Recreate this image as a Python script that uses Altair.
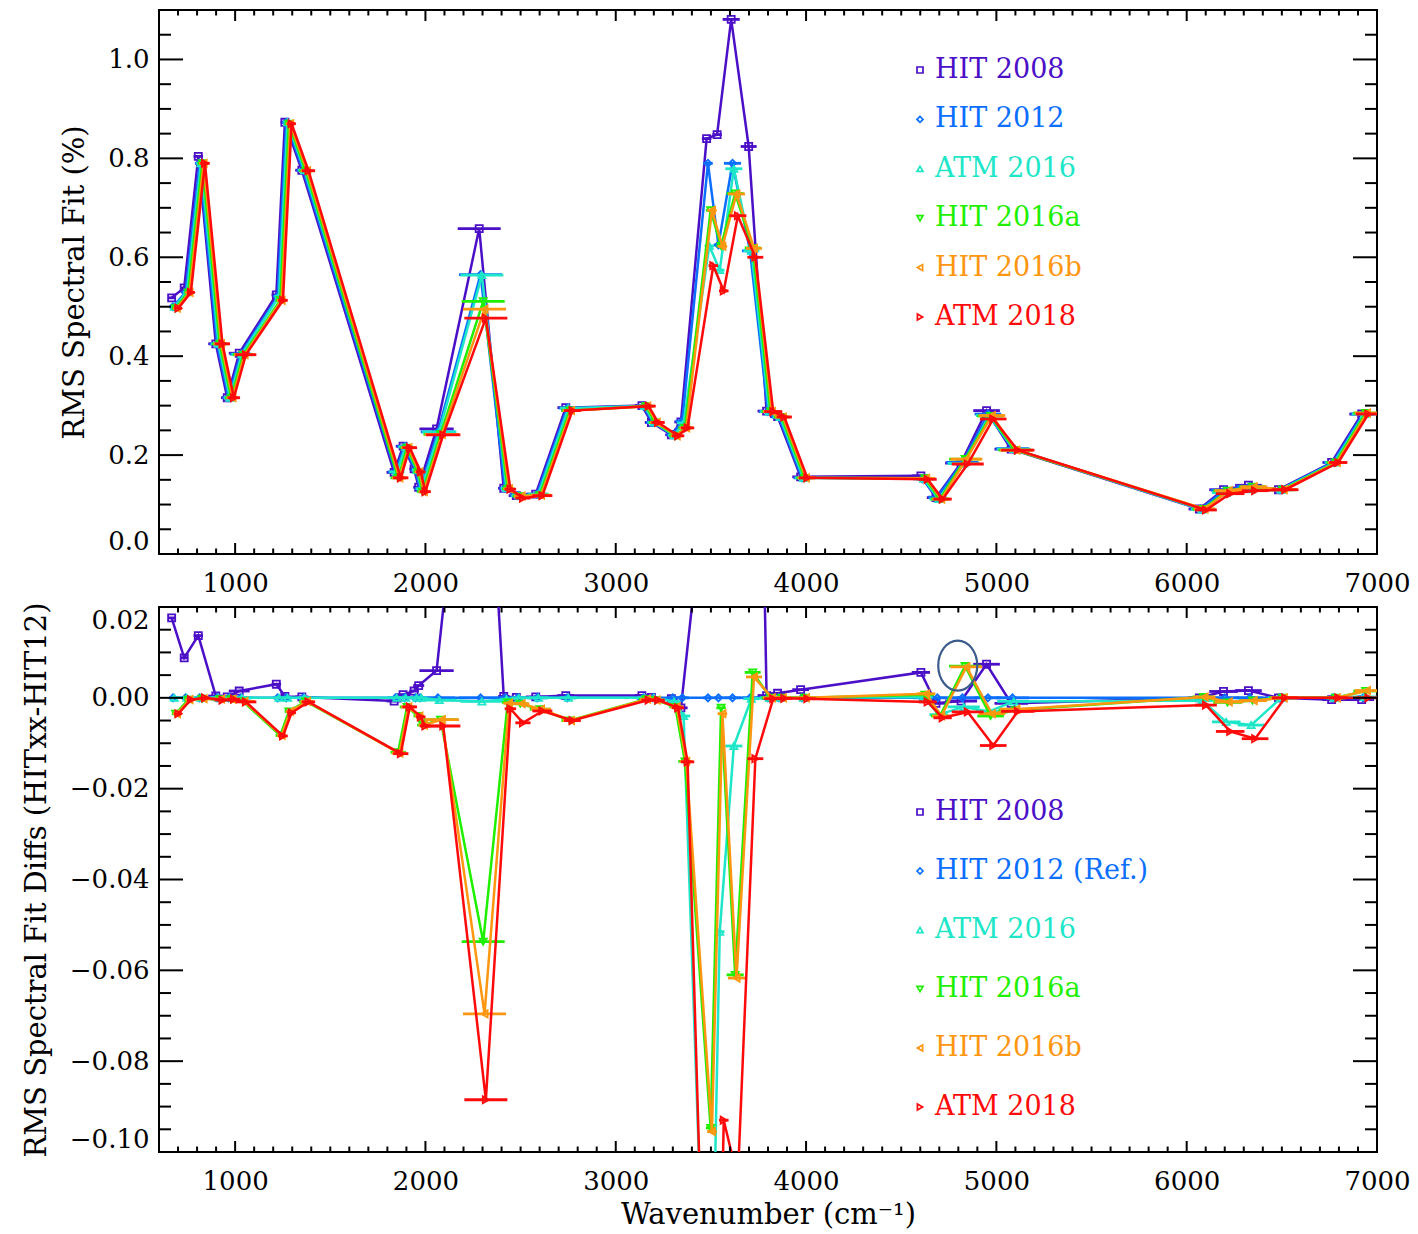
import altair as alt
import pandas as pd

# ---------------- data ----------------
SERIES = ["HIT 2008", "HIT 2012", "ATM 2016", "HIT 2016a", "HIT 2016b", "ATM 2018"]
LEGEND_TOP = ["HIT 2008", "HIT 2012", "ATM 2016", "HIT 2016a", "HIT 2016b", "ATM 2018"]
LEGEND_BOTTOM = ["HIT 2008", "HIT 2012 (Ref.)", "ATM 2016", "HIT 2016a", "HIT 2016b", "ATM 2018"]
COLORS = ["#4b0fc8", "#0a6eff", "#1ee6c8", "#1ef000", "#ff9610", "#ff0a0a"]
SHAPES = ["square", "diamond", "triangle-up", "triangle-down", "triangle-left", "triangle-right"]

# microwindow centres and widths (cm-1)
WAVENUMBER = [684, 750, 824, 916, 976, 1039, 1234, 1279, 1368, 1853, 1900, 1958, 1982, 2076, 2300,
              2429, 2495, 2597, 2755, 3155, 3205, 3310, 3360, 3495, 3550, 3624, 3716, 3810, 3868,
              3989, 4621, 4700, 4832, 4966, 5095, 6084, 6211, 6342, 6500, 6779, 6937]
WINDOW_WIDTH = [40, 40, 50, 80, 65, 110, 50, 45, 70, 80, 77, 50, 58, 180, 226,
                60, 80, 105, 88, 75, 70, 65, 70, 50, 50, 90, 84, 95, 80,
                88, 96, 96, 168, 140, 175, 114, 150, 140, 140, 96, 130]

# top panel: RMS spectral fit (%)
RMS_HIT2008 = [0.518, 0.538, 0.804, 0.425, 0.316, 0.406, 0.524, 0.873, 0.776, 0.165, 0.218, 0.172, 0.135, 0.253, 0.658,
               0.133, 0.118, 0.121, 0.296, 0.300, 0.266, 0.241, 0.267, 0.840, 0.848, 1.081, 0.824, 0.289, 0.278,
               0.156, 0.158, 0.114, 0.184, 0.290, 0.212, 0.091, 0.130, 0.139, 0.130, 0.185, 0.283]
RMS_HIT2012 = [0.500, 0.529, 0.790, 0.425, 0.316, 0.404, 0.521, 0.873, 0.776, 0.166, 0.217, 0.170, 0.132, 0.247, 0.565,
               0.133, 0.118, 0.121, 0.295, 0.299, 0.266, 0.241, 0.269, 0.790, 0.625, 0.790, 0.613, 0.288, 0.277,
               0.154, 0.152, 0.115, 0.185, 0.283, 0.213, 0.091, 0.129, 0.137, 0.130, 0.185, 0.283]
RMS_ATM2016 = [0.500, 0.529, 0.790, 0.425, 0.316, 0.404, 0.521, 0.873, 0.776, 0.166, 0.217, 0.170, 0.132, 0.247, 0.564,
               0.133, 0.118, 0.121, 0.295, 0.299, 0.266, 0.240, 0.265, 0.623, 0.574, 0.779, 0.613, 0.288, 0.277,
               0.154, 0.152, 0.111, 0.183, 0.280, 0.212, 0.090, 0.124, 0.131, 0.130, 0.185, 0.283]
RMS_HIT2016A = [0.497, 0.529, 0.790, 0.425, 0.316, 0.403, 0.513, 0.870, 0.775, 0.154, 0.215, 0.166, 0.126, 0.242, 0.511,
                0.132, 0.117, 0.119, 0.290, 0.299, 0.266, 0.239, 0.255, 0.695, 0.623, 0.729, 0.619, 0.288, 0.277,
                0.154, 0.153, 0.111, 0.192, 0.279, 0.210, 0.091, 0.128, 0.136, 0.130, 0.185, 0.285]
RMS_HIT2016B = [0.497, 0.529, 0.790, 0.425, 0.316, 0.403, 0.513, 0.870, 0.775, 0.154, 0.215, 0.166, 0.126, 0.242, 0.495,
                0.132, 0.117, 0.119, 0.290, 0.299, 0.266, 0.239, 0.255, 0.695, 0.622, 0.728, 0.618, 0.288, 0.277,
                0.154, 0.153, 0.111, 0.192, 0.280, 0.210, 0.091, 0.128, 0.136, 0.130, 0.185, 0.285]
RMS_ATM2018 = [0.497, 0.529, 0.790, 0.425, 0.316, 0.403, 0.513, 0.870, 0.775, 0.154, 0.215, 0.166, 0.126, 0.241, 0.477,
               0.131, 0.113, 0.118, 0.290, 0.299, 0.266, 0.239, 0.255, 0.583, 0.532, 0.684, 0.600, 0.288, 0.277,
               0.154, 0.151, 0.111, 0.182, 0.273, 0.210, 0.089, 0.122, 0.128, 0.130, 0.185, 0.283]

# bottom panel: RMS spectral fit differences (HITxx - HIT12)
DIFF_HIT2008 = [0.0176, 0.0088, 0.0137, 0.0004, 0.0002, 0.0015, 0.0030, 0.0003, 0.0002, -0.0007, 0.0007, 0.0015,
                0.0027, 0.0060, 0.0930, 0.0003, 0.0001, 0.0002, 0.0005, 0.0005, 0.0001, -0.0002, -0.0022, 0.0500,
                0.2230, 0.2910, 0.2110, 0.0005, 0.0010, 0.0018, 0.0056, -0.0012, -0.0007, 0.0074, -0.0012, 0.0000,
                0.0014, 0.0016, 0.0000, -0.0004, -0.0004]
DIFF_HIT2012 = [0.0, 0.0, 0.0, 0.0, 0.0, 0.0, 0.0, 0.0, 0.0, 0.0, 0.0, 0.0, 0.0, 0.0, 0.0, 0.0, 0.0, 0.0, 0.0, 0.0,
                0.0, 0.0, 0.0, 0.0, 0.0, 0.0, 0.0, 0.0, 0.0, 0.0, 0.0, 0.0, 0.0, 0.0, 0.0, 0.0, 0.0, 0.0, 0.0, 0.0,
                0.0]
DIFF_ATM2016 = [0.0, 0.0, 0.0, 0.0, 0.0, 0.0, 0.0, 0.0, 0.0, 0.0, 0.0, 0.0, 0.0, -0.0005, -0.0008, -0.0003, 0.0, 0.0,
                0.0, 0.0, 0.0, -0.0008, -0.0040, -0.1670, -0.0515, -0.0106, -0.0002, 0.0, 0.0, 0.0, 0.0002, -0.0037,
                -0.0020, -0.0030, -0.0008, -0.0006, -0.0053, -0.0060, 0.0, 0.0, 0.0002]
DIFF_HIT2016A = [-0.0035, -0.0004, -0.0002, -0.0003, -0.0003, -0.0008, -0.0083, -0.0030, -0.0008, -0.0120, -0.0020,
                 -0.0040, -0.0060, -0.0048, -0.0537, -0.0010, -0.0013, -0.0025, -0.0050, -0.0003, -0.0005, -0.0020,
                 -0.0140, -0.0947, -0.0022, -0.0610, 0.0056, 0.0000, 0.0000, 0.0000, 0.0007, -0.0040, 0.0070,
                 -0.0040, -0.0027, 0.0002, -0.0010, -0.0006, 0.0000, 0.0000, 0.0015]
DIFF_HIT2016B = [-0.0035, -0.0004, -0.0002, -0.0003, -0.0003, -0.0008, -0.0083, -0.0030, -0.0008, -0.0122, -0.0020,
                 -0.0040, -0.0060, -0.0048, -0.0696, -0.0012, -0.0013, -0.0025, -0.0050, -0.0003, -0.0005, -0.0020,
                 -0.0140, -0.0955, -0.0035, -0.0617, 0.0046, 0.0000, 0.0000, 0.0000, 0.0009, -0.0040, 0.0068,
                 -0.0035, -0.0025, 0.0002, -0.0009, -0.0006, 0.0000, 0.0000, 0.0016]
DIFF_ATM2018 = [-0.0035, -0.0004, 0.0000, -0.0005, -0.0003, -0.0009, -0.0084, -0.0033, -0.0009, -0.0123, -0.0020,
                -0.0042, -0.0062, -0.0062, -0.0885, -0.0024, -0.0055, -0.0029, -0.0050, -0.0005, -0.0005, -0.0022,
                -0.0141, -0.2070, -0.0930, -0.1060, -0.0134, -0.0002, -0.0001, -0.0002, -0.0009, -0.0044, -0.0031,
                -0.0105, -0.0030, -0.0016, -0.0074, -0.0090, 0.0000, 0.0000, 0.0000]

# circled feature in the lower panel (wavenumber, diff)
CIRCLE_X = [4797]
CIRCLE_Y = [0.0071]

# axis tick values
X_MAJOR = [1000, 2000, 3000, 4000, 5000, 6000, 7000]
X_MINOR = [v for v in range(700, 7000, 100) if v % 1000 != 0]
Y1_MAJOR = [0.0, 0.2, 0.4, 0.6, 0.8, 1.0]
Y1_MINOR = [round(0.05 * i, 2) for i in range(1, 22) if i % 4 != 0]
Y2_MAJOR = [-0.10, -0.08, -0.06, -0.04, -0.02, 0.00, 0.02]
Y2_MINOR = [round(-0.1 + 0.005 * i, 3) for i in range(1, 24) if i % 4 != 0]

RMS = [RMS_HIT2008, RMS_HIT2012, RMS_ATM2016, RMS_HIT2016A, RMS_HIT2016B, RMS_ATM2018]
DIFF = [DIFF_HIT2008, DIFF_HIT2012, DIFF_ATM2016, DIFF_HIT2016A, DIFF_HIT2016B, DIFF_ATM2018]

records = []
for k in range(len(SERIES)):
    for i, wn in enumerate(WAVENUMBER):
        records.append({"k": k, "series": SERIES[k], "wn": wn, "width": WINDOW_WIDTH[i],
                        "rms": RMS[k][i], "diff": DIFF[k][i]})
df = pd.DataFrame(records)

# ---------------- chart ----------------
FONT = "DejaVu Serif"
PW = 1218
DODGE = 7  # small horizontal separation between the series (cm-1)
XS = alt.Scale(domain=[600, 7000], nice=False, zero=False)


def panel(col, ydom, H, ymajor, yminor, yfmt, ytitle, xtitle, labels, y0, dy, circle=False):
    ys = alt.Scale(domain=ydom, nice=False, zero=False)
    xaxis = alt.Axis(values=X_MAJOR, format="d", ticks=False, domain=False, grid=False,
                     labelPadding=16, labelOverlap=False, labelFlush=False, titlePadding=6)
    yaxis = alt.Axis(values=ymajor, format=yfmt, ticks=False, domain=False, grid=False,
                     labelPadding=10, labelFlush=True, labelOverlap=False, titlePadding=18)

    def X(field):
        return alt.X(field, scale=XS, axis=xaxis, title=xtitle)

    def Y(field):
        return alt.Y(field, scale=ys, axis=yaxis, title=ytitle)

    base = alt.Chart(df).transform_calculate(
        xp=f"datum.wn + (datum.k - 2.5) * {DODGE}"
    ).transform_calculate(
        x0="datum.xp - datum.width / 2",
        x1="datum.xp + datum.width / 2",
    )
    layers = []
    for k in range(6):
        sub = base.transform_filter(f"datum.k == {k}")
        layers.append(sub.mark_line(color=COLORS[k], strokeWidth=2.5, clip=True).encode(
            x=X("xp:Q"), y=Y(f"{col}:Q"), order="wn:Q"))
        layers.append(sub.mark_rule(color=COLORS[k], strokeWidth=2.8, clip=True).encode(
            x=X("x0:Q"), x2="x1:Q", y=Y(f"{col}:Q")))
        layers.append(sub.mark_point(shape=SHAPES[k], color=COLORS[k], filled=False, size=50,
                                     strokeWidth=1.8, opacity=1, clip=True).encode(
            x=X("xp:Q"), y=Y(f"{col}:Q")))
    if circle:
        cd = pd.DataFrame({"cx": CIRCLE_X, "cy": CIRCLE_Y})
        layers.append(alt.Chart(cd).mark_point(
            shape="M0,-1A0.78,1 0 1,1 0,1A0.78,1 0 1,1 0,-1Z", size=2500, filled=False,
            color="#3b5b8c", strokeWidth=2.2, opacity=1).encode(x=X("cx:Q"), y=Y("cy:Q")))

    # inward IDL-style ticks on all four sides
    for vals, L in ((X_MAJOR, 11), (X_MINOR, 5.5)):
        d = pd.DataFrame({"t": vals})
        layers.append(alt.Chart(d).mark_rule(color="black", strokeWidth=2).encode(
            x=X("t:Q"), y=alt.value(0), y2=alt.value(L)))
        layers.append(alt.Chart(d).mark_rule(color="black", strokeWidth=2).encode(
            x=X("t:Q"), y=alt.value(H), y2=alt.value(H - L)))
    for vals, L in ((ymajor, 24), (yminor, 12)):
        d = pd.DataFrame({"t": vals})
        layers.append(alt.Chart(d).mark_rule(color="black", strokeWidth=2).encode(
            y=Y("t:Q"), x=alt.value(0), x2=alt.value(L)))
        layers.append(alt.Chart(d).mark_rule(color="black", strokeWidth=2).encode(
            y=Y("t:Q"), x=alt.value(PW), x2=alt.value(PW - L)))

    # legend
    for i, lab in enumerate(labels):
        d = pd.DataFrame({"label": [lab]})
        layers.append(alt.Chart(d).mark_point(shape=SHAPES[i], filled=False, size=36, strokeWidth=1.7,
                                              color=COLORS[i], opacity=1).encode(
            x=alt.value(761), y=alt.value(y0 + i * dy)))
        layers.append(alt.Chart(d).mark_text(align="left", baseline="middle", font=FONT, fontSize=27,
                                             color=COLORS[i]).encode(
            x=alt.value(776), y=alt.value(y0 + i * dy), text="label:N"))
    return alt.layer(*layers).properties(width=PW, height=H)


top = panel("rms", [0, 1.1], 544, Y1_MAJOR, Y1_MINOR, ".1f", "RMS Spectral Fit (%)", "",
            LEGEND_TOP, 60, 49.4)
bottom = panel("diff", [-0.1, 0.02], 545, Y2_MAJOR, Y2_MINOR, ".2f",
               "RMS Spectral Fit Diffs (HITxx-HIT12)", "Wavenumber (cm\u207b\u00b9)",
               LEGEND_BOTTOM, 205, 59, circle=True)

chart = alt.vconcat(top, bottom, spacing=4).properties(
    padding={"left": 21, "top": 8, "right": 5, "bottom": 2}, background="white"
).configure_view(stroke="black", strokeWidth=2).configure_axis(
    labelFont=FONT, labelFontSize=26, labelColor="black",
    titleFont=FONT, titleFontSize=29, titleFontWeight="normal", titleColor="black"
)

chart.save("out.html", embed_options={"renderer": "svg", "actions": False})
